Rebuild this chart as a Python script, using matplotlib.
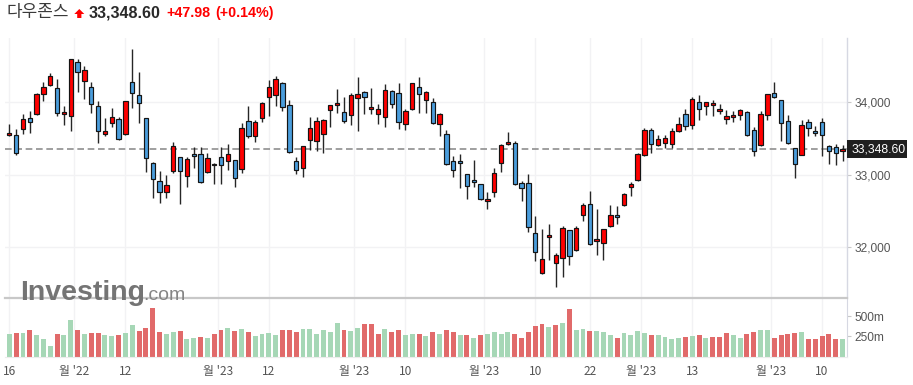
import numpy as np
import pandas as pd
import matplotlib
matplotlib.use("Agg")
import matplotlib.pyplot as plt
import matplotlib.transforms as mtransforms
from matplotlib.patches import Polygon, Rectangle

# ---------------- data ----------------
title_name = "다우존스"
last_price_text = "33,348.60"
change_text = "+47.98"
change_pct_text = "(+0.14%)"

holidays = ["2022-11-24", "2022-12-26", "2023-01-02", "2023-01-16",
            "2023-02-20", "2023-04-07"]
dates = pd.bdate_range("2022-11-16", "2023-05-15").difference(pd.to_datetime(holidays))

opens = [33540, 33549, 33623, 33775, 33830, 34106, 34230, 34189, 33830, 33811,
         34547, 34285, 34202, 33940, 33563, 33706, 33761, 33554, 34271, 34092,
         33775, 33163, 32905, 32753, 33043, 33236, 32974, 33278, 33278, 33029,
         33126, 33236, 33181, 33195, 33071, 33733, 33526, 33775, 34064, 34092,
         34258, 33954, 33181, 33085, 33471, 33457, 33554, 33885, 33954, 33857,
         33816, 34051, 34133, 33899, 33830, 33788, 34147, 34120, 33692, 33899,
         34202, 34023, 33995, 33692, 33554, 33181, 33181, 33002, 32919, 32864,
         32643, 32753, 33154, 33416, 33430, 32878, 32878, 32188, 31636, 32132,
         31774, 31843, 32229, 31953, 32436, 32588, 32077, 32050, 32284, 32436,
         32574, 32822, 32919, 33264, 33609, 33402, 33430, 33416, 33595, 33830,
         33678, 33995, 33940, 33954, 33871, 33761, 33788, 33816, 33857, 33609,
         33402, 33816, 34120, 34023, 33733, 33361, 33264, 33719, 33595, 33719,
         33388, 33374, 33320]
highs = [33692, 33623, 33834, 33876, 34129, 34276, 34400, 34313, 33945, 34593,
         34593, 34497, 34271, 34009, 33775, 33913, 33793, 34015, 34727, 34409,
         33784, 33177, 33048, 32997, 33443, 33246, 33246, 33384, 33384, 33301,
         33163, 33384, 33416, 33200, 33715, 33940, 33752, 34000, 34299, 34359,
         34271, 34023, 33236, 33397, 33788, 33788, 33770, 33963, 34175, 34064,
         34120, 34340, 34147, 34189, 33968, 34244, 34161, 34258, 33899, 34267,
         34340, 34147, 34051, 33844, 33609, 33250, 33278, 33011, 33195, 32864,
         32753, 33085, 33416, 33581, 33457, 32905, 33002, 32422, 32243, 32312,
         31912, 32284, 32238, 32284, 32602, 32767, 32519, 32252, 32574, 32560,
         32740, 32891, 33292, 33637, 33637, 33540, 33540, 33637, 33788, 33899,
         34064, 34092, 34005, 34023, 33968, 33885, 33871, 33899, 33871, 33650,
         33871, 34115, 34271, 34032, 33816, 33370, 33747, 33761, 33664, 33775,
         33402, 33416, 33402]
lows = [33531, 33269, 33554, 33568, 33825, 34018, 34216, 33807, 33678, 33595,
        34143, 34046, 33853, 33430, 33526, 33650, 33476, 33545, 33913, 33715,
        33029, 32671, 32602, 32675, 33025, 32588, 32827, 33089, 32880, 33020,
        32864, 32864, 33062, 32827, 33016, 33499, 33453, 33719, 33802, 33940,
        33871, 33292, 33002, 32960, 33333, 33319, 33292, 33650, 33844, 33706,
        33678, 33595, 33830, 33830, 33692, 33650, 33913, 33623, 33609, 33890,
        33844, 33844, 33700, 33526, 33126, 32960, 32809, 32657, 32822, 32645,
        32519, 32684, 33029, 33402, 32850, 32629, 32201, 31801, 31625, 31815,
        31442, 31580, 31746, 31944, 32353, 32025, 31884, 31815, 32275, 32312,
        32560, 32698, 32910, 33255, 33292, 33388, 33361, 33361, 33586, 33609,
        33623, 33747, 33816, 33802, 33830, 33692, 33719, 33747, 33530, 33250,
        33388, 33747, 34051, 33457, 33416, 32947, 33264, 33526, 33526, 33250,
        33140, 33126, 33181]
closes = [33568, 33292, 33761, 33719, 34110, 34202, 34354, 33850, 33860, 34589,
          34409, 34437, 33968, 33600, 33606, 33788, 33485, 34009, 34120, 33982,
          33227, 32933, 32763, 32850, 33388, 33043, 33213, 33250, 32891, 33223,
          33147, 33136, 33278, 32947, 33637, 33526, 33719, 33982, 34202, 34313,
          33926, 33305, 33057, 33388, 33637, 33740, 33750, 33954, 33982, 33733,
          34092, 34106, 34064, 33926, 33899, 34161, 33968, 33719, 33871, 34258,
          34106, 34133, 33706, 33830, 33140, 33057, 33154, 32836, 32891, 32657,
          32662, 33016, 33402, 33443, 32864, 32809, 32270, 31925, 31829, 32160,
          31884, 32257, 31870, 32257, 32574, 32036, 32105, 32243, 32436, 32408,
          32726, 32864, 33278, 33609, 33416, 33485, 33499, 33595, 33692, 33664,
          34037, 33899, 33995, 33982, 33899, 33802, 33816, 33885, 33540, 33319,
          33830, 34106, 34064, 33706, 33430, 33140, 33678, 33637, 33568, 33540,
          33319, 33301, 33348.60]
volumes_m = [275, 287.5, 287.5, 325, 262.5, 212.5, 125, 275, 262.5, 450,
             325, 275, 287.5, 287.5, 262.5, 250, 262.5, 287.5, 387.5, 312.5,
             350, 600, 300, 275, 300, 312.5, 212.5, 225, 237.5, 225,
             275, 325, 350, 312.5, 337.5, 300, 250, 275, 287.5, 262.5,
             325, 325, 300, 337.5, 337.5, 275, 325, 300, 412.5, 325,
             312.5, 350, 400, 400, 275, 337.5, 300, 325, 262.5, 275,
             275, 250, 300, 275, 325, 300, 262.5, 262.5, 225, 262.5,
             275, 300, 275, 300, 275, 225, 300, 375, 400, 362.5,
             387.5, 412.5, 587.5, 325, 337.5, 312.5, 312.5, 300, 262.5, 225,
             287.5, 262.5, 312.5, 287.5, 262.5, 262.5, 237.5, 212.5, 225, 237.5,
             250, 262.5, 225, 237.5, 237.5, 287.5, 262.5, 225, 275, 300,
             325, 325, 225, 262.5, 275, 287.5, 300, 212.5, 212.5, 250,
             275, 212.5, 212.5]

tick_keys = ["2022-11-16", "2022-12", "2022-12-12", "2023-01", "2023-01-12",
             "2023-02", "2023-02-10", "2023-03", "2023-03-10", "2023-03-22",
             "2023-04", "2023-04-13", "2023-05", "2023-05-10"]
tick_labels = ["16", "월 '22", "12", "월 '23", "12", "월 '23", "10", "월 '23",
               "10", "22", "월 '23", "13", "월 '23", "10"]
price_ticks = [32000, 33000, 34000]
vol_ticks = [250, 500]
vol_tick_labels = ["250m", "500m"]

# ---------------- derived ----------------
O = np.array(opens, float)
Hh = np.array(highs, float)
L = np.array(lows, float)
C = np.array(closes, float)
V = np.array(volumes_m, float)
n = len(C)
x = np.arange(n)

def tick_pos(key):
    if len(key) == 7:  # month boundary
        first = np.where(dates >= pd.Timestamp(key + "-01"))[0][0]
        return first - 0.5
    return int(np.where(dates == pd.Timestamp(key))[0][0])

xt = [tick_pos(k) for k in tick_keys]

# ---------------- figure ----------------
W, H = 913, 385
fig = plt.figure(figsize=(W / 100, H / 100), dpi=100)
fig.patch.set_facecolor("white")

def rect(x0, y0, x1, y1):
    return [x0 / W, 1 - y1 / H, (x1 - x0) / W, (y1 - y0) / H]

ax = fig.add_axes(rect(5, 38, 846.5, 298))
axv = fig.add_axes(rect(5, 298, 846.5, 356.5), sharex=ax)

GRID = "#f2f2f4"
LABEL = "#555555"
kr_font = ["Noto Sans CJK KR", "DejaVu Sans"]

# price panel
up = C >= O
body_col = np.where(up, "#ff0000", "#4a9ddc")
ax.vlines(x, L, Hh, color="#262626", lw=1.0, zorder=3)
diff = np.abs(C - O)
minh = 22.0
bh = np.maximum(diff, minh)
bb = np.minimum(O, C) - (bh - diff) / 2
ax.bar(x, bh, bottom=bb, width=0.64, color=body_col, edgecolor="#141414",
       linewidth=0.85, zorder=4)
ax.axhline(C[-1], color="#8f8f8f", lw=1.2, dashes=(4, 2.2), zorder=2)

ax.set_xlim(-0.63, 122.58)
ax.set_ylim(31297, 34883)
ax.set_xticks(xt)
ax.set_yticks(price_ticks)
ax.grid(True, color=GRID, lw=1.0, zorder=0)
ax.set_axisbelow(True)
ax.yaxis.tick_right()
ax.set_yticklabels([f"{v:,.0f}" for v in price_ticks])
ax.tick_params(axis="y", length=3, width=0.8, color="#c8c8c8", pad=3,
               labelsize=8.6, labelcolor=LABEL)
for t in ax.get_yticklabels():
    t.set_fontfamily("Liberation Sans")
ax.tick_params(axis="x", length=0, labelbottom=False)
for s in ["top", "left", "bottom"]:
    ax.spines[s].set_visible(False)
ax.spines["right"].set_color("#d6d8e2")
ax.spines["right"].set_linewidth(1.0)

# last price tag
blend = mtransforms.blended_transform_factory(ax.transAxes, ax.transData)
axw = 841.5
tag = Rectangle((1.0, C[-1] - 9.2 * 13.79), 60 / axw, 18.4 * 13.79,
                transform=blend, facecolor="#1f1f1f", edgecolor="none",
                clip_on=False, zorder=5)
ax.add_patch(tag)
ax.text(1.0 + 5.5 / axw, C[-1], last_price_text, transform=blend, ha="left",
        va="center", color="white", fontsize=8.7, family="Liberation Sans",
        clip_on=False, zorder=6)

# volume panel
prev = np.concatenate([[O[0]], C[:-1]])
vol_col = np.where(C >= prev, "#a6d7b6", "#e16a6a")
axv.bar(x, V, width=0.72, color=vol_col, zorder=2)
axv.set_ylim(0, 731)
axv.set_yticks(vol_ticks)
axv.yaxis.tick_right()
axv.set_yticklabels(vol_tick_labels)
axv.tick_params(axis="y", length=3, width=0.8, color="#c8c8c8", pad=3,
                labelsize=8.6, labelcolor=LABEL)
for t in axv.get_yticklabels():
    t.set_fontfamily("Liberation Sans")
axv.set_xticks(xt)
axv.set_xticklabels(tick_labels)
axv.tick_params(axis="x", length=0, pad=6, labelsize=8.6, labelcolor=LABEL)
for t in axv.get_xticklabels():
    t.set_fontfamily(kr_font)
axv.grid(True, axis="x", color=GRID, lw=1.0, zorder=0)
axv.set_axisbelow(True)
axv.spines["left"].set_visible(False)
axv.spines["top"].set_color("#c8c8c8")
axv.spines["top"].set_linewidth(1.6)
axv.spines["right"].set_color("#d6d8e2")
axv.spines["bottom"].set_color("#ececec")

# ---------------- header ----------------
def fy(py):
    return 1 - py / H

fig.text(6.5 / W, fy(17.2), title_name, fontsize=12.2, color="#3a3a3a",
         family=kr_font, va="baseline", ha="left")
arrow_px = [(79.3, 9.0), (84.3, 14.0), (81.4, 14.0), (81.4, 18.0),
            (77.2, 18.0), (77.2, 14.0), (74.3, 14.0)]
fig.patches.append(Polygon([(px / W, fy(py)) for px, py in arrow_px],
                           closed=True, transform=fig.transFigure,
                           facecolor="#ff0000", edgecolor="none"))
fig.text(89 / W, fy(17.0), last_price_text, fontsize=11.6, weight="bold",
         color="#2a2a2a", family="Liberation Sans", va="baseline", ha="left")
fig.text(166.5 / W, fy(17.0), change_text, fontsize=10.3, weight="bold",
         color="#ff0000", family="Liberation Sans", va="baseline", ha="left")
fig.text(215 / W, fy(17.0), change_pct_text, fontsize=10.3, weight="bold",
         color="#ff0000", family="Liberation Sans", va="baseline", ha="left")

# watermark
fig.text(20.5 / W, fy(300), "Investing", fontsize=20.5, weight="heavy",
         color="#747474", family="Liberation Sans", va="baseline", ha="left")
fig.text(143.5 / W, fy(300), ".com", fontsize=14, color="#858585",
         family="Liberation Sans", va="baseline", ha="left")

fig.savefig("out.png", dpi=100, facecolor="white")
